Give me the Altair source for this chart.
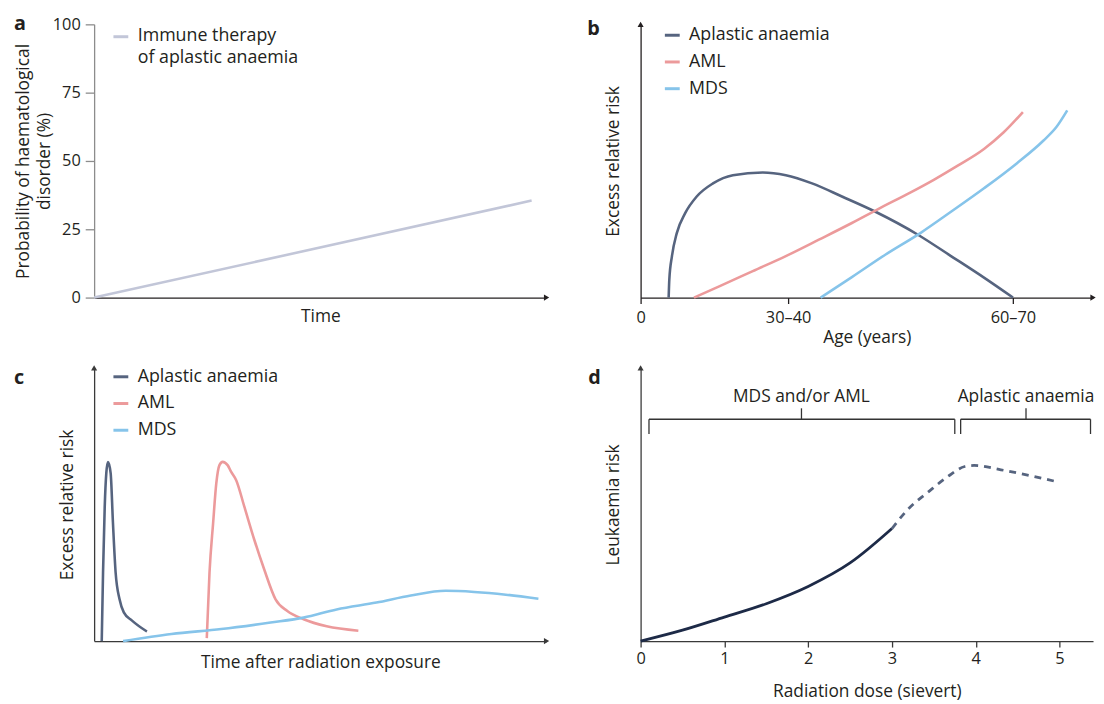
import altair as alt
import pandas as pd

FONT = "Open Sans"
INK = "#231f20"
AXIS_GREY = "#8c8c8c"
AXIS_DARK = "#3a3a3a"
AA_COLOR = "#56647f"
AML_COLOR = "#ec9a9b"
MDS_COLOR = "#86c4ea"
IMMUNE_COLOR = "#c2c6d8"
DOSE_COLOR = "#1d2a47"

# ---------------- panel a ----------------
a_time = [0, 96.7]
a_prob = [0, 35.5]
a_series = "Immune therapy of aplastic anaemia"
a_ticks = [0, 25, 50, 75, 100]

# ---------------- panel b ----------------
b_series = ["Aplastic anaemia", "AML", "MDS"]
b_aa_age = [6.2, 6.35, 6.93, 8.0, 9.85, 12.4, 16.0, 20.4, 27.0, 32.1, 37.9, 44.5, 51.8,
            61.3, 68.6, 75.9, 82.3]
b_aa_risk = [0, 6.7, 15.2, 23.6, 30.9, 37.0, 41.8, 44.8, 45.8, 44.8, 41.8, 37.0, 31.5,
             23.0, 15.2, 7.3, 0]
b_aml_age = [11.8, 17.5, 24.8, 32.1, 39.4, 46.7, 52.5, 59.8, 64.9, 70.0, 75.9, 80.2, 84.5]
b_aml_risk = [0, 4.2, 9.7, 15.2, 21.2, 27.3, 32.4, 38.6, 43.2, 48.2, 54.4, 60.4, 67.9]
b_mds_age = [39.8, 46.7, 54.0, 62.0, 68.6, 75.9, 83.2, 89.0, 91.9, 94.3]
b_mds_risk = [0, 7.5, 15.6, 23.8, 31.4, 40.0, 49.2, 57.4, 62.4, 68.5]
b_tick_pos = [0, 32.6, 82.3]
b_tick_labels = ["0", "30–40", "60–70"]

# ---------------- panel c ----------------
c_aa_time = [1.68, 1.97, 2.34, 2.69, 3.06, 3.65, 4.16, 4.75, 5.62, 6.56, 8.38, 11.66]
c_aa_risk = [0, 25.1, 49.1, 61.5, 65.5, 61.5, 43.3, 25.1, 15.3, 10.5, 7.5, 3.5]
c_aml_time = [24.9, 25.5, 26.3, 27.0, 27.7, 28.4, 29.5, 30.3, 31.4, 33.2, 35.4, 37.6,
              40.1, 42.7, 46.3, 51.4, 58.4]
c_aml_risk = [1.1, 25.0, 43.2, 57.7, 64.4, 65.6, 64.4, 61.9, 58.9, 49.2, 37.1, 26.2,
              15.3, 11.0, 8.0, 5.4, 3.8]
c_mds_time = [6.4, 17.1, 28.1, 39.0, 46.3, 53.6, 62.4, 70.0, 77.7, 84.0, 91.0, 98.2]
c_mds_risk = [0, 2.6, 4.4, 6.8, 8.6, 11.6, 14.1, 16.7, 18.4, 18.0, 17.0, 15.5]

# ---------------- panel d ----------------
d_dose_solid = [0, 0.5, 1, 1.5, 2, 2.5, 3]
d_risk_solid = [0, 4.0, 8.8, 13.7, 20, 28.6, 41.2]
d_dose_dashed = [3.0, 3.19, 3.45, 3.67, 3.87, 3.98, 4.3, 4.69, 5.0]
d_risk_dashed = [41.2, 48.2, 55.0, 60.3, 63.9, 64.3, 62.7, 60.3, 58.1]
d_ticks = [0, 1, 2, 3, 4, 5]
d_groups = ["MDS and/or AML", "Aplastic anaemia"]
d_group_from = [0.10, 3.82]
d_group_to = [3.75, 5.37]
d_group_mid = [1.92, 4.60]

W = 457
H = 276
TITLE_FS = 17.5


def panel_title(letter, dx, dy):
    return alt.TitleParams(letter, anchor="start", frame="group", dx=dx, dy=dy,
                           fontSize=20, fontWeight="bold", font=FONT, color=INK,
                           offset=0, baseline="alphabetic")


def arrow(x_field, y_field, x, y, shape, color):
    df = pd.DataFrame({x_field: [x], y_field: [y]})
    return alt.Chart(df).mark_point(shape=shape, filled=True, size=38, opacity=1,
                                    color=color).encode(
        x=alt.X(f"{x_field}:Q"), y=alt.Y(f"{y_field}:Q"))


# ---------- panel a ----------
a_df = pd.DataFrame({"t": a_time, "p": a_prob, "series": [a_series] * len(a_time)})
a_x = alt.X("t:Q", scale=alt.Scale(domain=[0, 100], nice=False),
            axis=alt.Axis(title="Time", labels=False, ticks=False, domainColor=INK,
                          domainWidth=1.3, titlePadding=10))
a_y = alt.Y("p:Q", scale=alt.Scale(domain=[0, 100], nice=False),
            axis=alt.Axis(values=a_ticks, title=["Probability of haematological", "disorder (%)"],
                          domainColor=AXIS_GREY, tickColor=AXIS_GREY, tickSize=9,
                          domainWidth=1.3, tickWidth=1.3, labelPadding=5, titlePadding=-1,
                          titleLineHeight=21))
a_line = alt.Chart(a_df).mark_line(strokeWidth=2.6).encode(
    x=a_x, y=a_y,
    color=alt.Color("series:N", scale=alt.Scale(domain=[a_series], range=[IMMUNE_COLOR]),
                    legend=alt.Legend(title=None, orient="none", legendX=18, legendY=8,
                                      symbolType="M-1,-0.6L1,-0.6", symbolSize=225,
                                      symbolStrokeWidth=3, labelBaseline="alphabetic",
                                      labelExpr="[slice(datum.label, 0, 14), slice(datum.label, 15)]",
                                      labelOffset=8, labelLimit=400)))
pa = alt.layer(a_line, arrow("t", "p", 100, 0, "triangle-right", INK)).properties(
    width=W, height=H, title=panel_title("a", -81, 34))

# ---------- panel b ----------
b_df = pd.concat([
    pd.DataFrame({"age": b_aa_age, "risk": b_aa_risk, "series": b_series[0]}),
    pd.DataFrame({"age": b_aml_age, "risk": b_aml_risk, "series": b_series[1]}),
    pd.DataFrame({"age": b_mds_age, "risk": b_mds_risk, "series": b_series[2]}),
])
b_label_expr = ("datum.value < 10 ? '" + b_tick_labels[0] + "' : datum.value < 50 ? '"
                + b_tick_labels[1] + "' : '" + b_tick_labels[2] + "'")
b_x = alt.X("age:Q", scale=alt.Scale(domain=[0, 100], nice=False),
            axis=alt.Axis(values=b_tick_pos, labelExpr=b_label_expr, title="Age (years)",
                          domainColor=INK, tickColor=INK, tickSize=6, labelFlush=False,
                          domainWidth=1.3, tickWidth=1.3, labelPadding=6, titlePadding=3))
b_y = alt.Y("risk:Q", scale=alt.Scale(domain=[0, 100], nice=False),
            axis=alt.Axis(title="Excess relative risk", labels=False, ticks=False,
                          domainColor=INK, domainWidth=1.3, titlePadding=18))
series_legend = dict(title=None, orient="none", symbolType="stroke", symbolSize=225,
                     symbolStrokeWidth=3, labelOffset=8, rowPadding=9, labelLimit=400)
b_line = alt.Chart(b_df).mark_line(strokeWidth=2.6, interpolate="monotone").encode(
    x=b_x, y=b_y, detail="series:N",
    color=alt.Color("series:N", scale=alt.Scale(domain=b_series,
                                                range=[AA_COLOR, AML_COLOR, MDS_COLOR]),
                    legend=alt.Legend(legendX=23, legendY=2, **series_legend)))
pb = alt.layer(
    b_line,
    arrow("age", "risk", 100, 0, "triangle-right", INK),
    arrow("age", "risk", 0, 100, "triangle-up", INK),
).properties(width=W, height=H, title=panel_title("b", -54, 33))

# ---------- panel c ----------
c_df = pd.concat([
    pd.DataFrame({"time": c_aa_time, "risk": c_aa_risk, "series": b_series[0]}),
    pd.DataFrame({"time": c_aml_time, "risk": c_aml_risk, "series": b_series[1]}),
    pd.DataFrame({"time": c_mds_time, "risk": c_mds_risk, "series": b_series[2]}),
])
c_x = alt.X("time:Q", scale=alt.Scale(domain=[0, 100], nice=False),
            axis=alt.Axis(title="Time after radiation exposure", labels=False, ticks=False,
                          domainColor=AXIS_DARK, domainWidth=1.3, titlePadding=13))
c_y = alt.Y("risk:Q", scale=alt.Scale(domain=[0, 100], nice=False),
            axis=alt.Axis(title="Excess relative risk", labels=False, ticks=False,
                          domainColor=AXIS_DARK, domainWidth=1.3, titlePadding=18))
c_line = alt.Chart(c_df).mark_line(strokeWidth=2.6, interpolate="monotone").encode(
    x=c_x, y=c_y, detail="series:N",
    color=alt.Color("series:N", scale=alt.Scale(domain=b_series,
                                                range=[AA_COLOR, AML_COLOR, MDS_COLOR]),
                    legend=alt.Legend(legendX=18, legendY=0, **series_legend)))
pc = alt.layer(
    c_line,
    arrow("time", "risk", 100, 0, "triangle-right", AXIS_DARK),
    arrow("time", "risk", 0, 100, "triangle-up", AXIS_DARK),
).properties(width=W, height=H, title=panel_title("c", -81, 39))

# ---------- panel d ----------
d_x_scale = alt.Scale(domain=[0, 5.4], nice=False)
d_y_scale = alt.Scale(domain=[0, 100], nice=False)
d_x = alt.X("dose:Q", scale=d_x_scale,
            axis=alt.Axis(values=d_ticks, title="Radiation dose (sievert)", format="d",
                          domainColor=AXIS_DARK, tickColor=AXIS_DARK, tickSize=6,
                          labelFlush=False, domainWidth=1.3, tickWidth=1.3,
                          labelPadding=4, titlePadding=15))
d_y = alt.Y("risk:Q", scale=d_y_scale,
            axis=alt.Axis(title="Leukaemia risk", labels=False, ticks=False,
                          domainColor=AXIS_DARK, domainWidth=1.3, titlePadding=18))
d_solid = alt.Chart(pd.DataFrame({"dose": d_dose_solid, "risk": d_risk_solid})).mark_line(
    strokeWidth=2.8, color=DOSE_COLOR, interpolate="monotone").encode(x=d_x, y=d_y)
d_dashed = alt.Chart(pd.DataFrame({"dose": d_dose_dashed, "risk": d_risk_dashed})).mark_line(
    strokeWidth=2.8, color=AA_COLOR, strokeDash=[7, 6], interpolate="monotone").encode(
    x="dose:Q", y="risk:Q")

g_df = pd.DataFrame({"group": d_groups, "start": d_group_from, "end": d_group_to,
                     "mid": d_group_mid})
ends_df = pd.DataFrame({"dose": d_group_from + d_group_to})
BR = "#333333"
br_h = alt.Chart(g_df).mark_rule(color=BR, strokeWidth=1.3).encode(
    x="start:Q", x2="end:Q", y=alt.datum(81.2))
br_ends = alt.Chart(ends_df).mark_rule(color=BR, strokeWidth=1.3).encode(
    x="dose:Q", y=alt.datum(75.8), y2=alt.datum(81.2))
br_mid = alt.Chart(g_df).mark_rule(color=BR, strokeWidth=1.3).encode(
    x="mid:Q", y=alt.datum(81.2), y2=alt.datum(85.2))
br_text = alt.Chart(g_df).mark_text(font=FONT, fontSize=TITLE_FS, color=INK,
                                    baseline="alphabetic").encode(
    x="mid:Q", y=alt.datum(87.6), text="group:N")
pd_chart = alt.layer(
    d_solid, d_dashed, br_h, br_ends, br_mid, br_text,
    arrow("dose", "risk", 0, 100, "triangle-up", AXIS_DARK),
).properties(width=W, height=H, title=panel_title("d", -53, 39))

chart = alt.concat(
    pa, pb, pc, pd_chart, columns=2, spacing={"row": 71, "column": 95}, bounds="flush"
).resolve_legend(color="independent").resolve_scale(color="independent").properties(
    padding={"left": 6, "top": 3, "right": 0, "bottom": 0}
).configure(
    style={"guide-label": {"lineHeight": 22}}
).configure_view(stroke=None).configure_axis(
    grid=False, labelFont=FONT, titleFont=FONT, labelFontSize=16.5, titleFontSize=TITLE_FS,
    titleFontWeight="normal", labelColor=INK, titleColor=INK
).configure_legend(labelFont=FONT, labelFontSize=18, labelColor=INK)

chart.save("out.html", embed_options={"renderer": "svg", "actions": False})
